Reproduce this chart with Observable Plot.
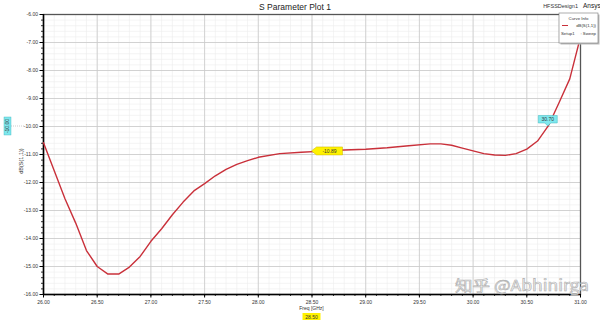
<!DOCTYPE html>
<html>
<head>
<meta charset="utf-8">
<script src="https://cdn.jsdelivr.net/npm/d3@7"></script>
<script src="https://cdn.jsdelivr.net/npm/@observablehq/plot@0.6"></script>
<style>
  html, body { margin: 0; padding: 0; background: #fff; }
  #chart svg { display: block; font-family: "Liberation Sans", Arial, sans-serif; }
</style>
</head>
<body>
<div id="chart"></div>
<script>
// ---- data ----
const freqs = [26.00, 26.10, 26.20, 26.30, 26.40, 26.50, 26.60, 26.70, 26.80, 26.90,
               27.00, 27.10, 27.20, 27.30, 27.40, 27.50, 27.60, 27.70, 27.80, 27.90,
               28.00, 28.20, 28.40, 28.60, 28.80, 29.00, 29.20, 29.40, 29.60, 29.70,
               29.80, 29.90, 30.00, 30.10, 30.20, 30.30, 30.40, 30.50, 30.60, 30.70,
               30.80, 30.90, 31.00];
const s11 = [-10.58, -11.58, -12.58, -13.45, -14.43, -15.00, -15.27, -15.27, -15.02, -14.64,
             -14.10, -13.65, -13.15, -12.70, -12.30, -12.04, -11.76, -11.53, -11.35, -11.22,
             -11.10, -10.97, -10.92, -10.88, -10.84, -10.81, -10.76, -10.69, -10.62, -10.62,
             -10.67, -10.77, -10.87, -10.97, -11.02, -11.03, -10.97, -10.81, -10.52, -9.98,
             -9.15, -8.30, -6.80];
const xTicks = [26.0, 26.5, 27.0, 27.5, 28.0, 28.5, 29.0, 29.5, 30.0, 30.5, 31.0];
const yTicks = [-16, -15, -14, -13, -12, -11, -10, -9, -8, -7, -6];
const xMinor = d3.range(26, 31.0001, 0.1);
const yMinor = d3.range(-16, -5.9999, 0.2);
const marker1 = {f: 28.50, v: -10.89, label: "-10.89", xLabel: "28.50"};
const marker2 = {f: 30.70, v: -10.00, label: "30.70", yLabel: "-10.00"};
const titleText = "S Parameter Plot 1";
const xLabel = "Freq [GHz]";
const yLabel = "dB(S(1,1))";
const legendTitle = "Curve Info";
const legendSeries = "dB(S(1,1))";
const legendSetup = ["Setup1", ": Sweep"];
const designName = "HFSSDesign1";
const brand = "Ansys";
const watermark = "知乎 @Abhinirga";

const data = freqs.map((f, i) => ({f, v: s11[i]}));
const fmt = d => d.toFixed(2);
const FONT = "Liberation Sans, Arial, sans-serif";

function annotations(index, scales, values, dim) {
  const g = d3.create("svg:g").attr("font-family", FONT).attr("text-anchor", "start");
  const {x, y} = scales;
  const L = dim.marginLeft, R = dim.width - dim.marginRight;
  const T = dim.marginTop, B = dim.height - dim.marginBottom;

  // titles
  g.append("text").attr("x", 295).attr("y", 10).attr("text-anchor", "middle")
    .attr("font-size", 8.5).attr("fill", "#222").text(titleText);
  g.append("text").attr("x", 578).attr("y", 8).attr("text-anchor", "end")
    .attr("font-size", 5.5).attr("fill", "#333").text(designName);
  g.append("text").attr("x", 583).attr("y", 7.5).attr("text-anchor", "start")
    .attr("font-size", 6.5).attr("fill", "#222").text(brand);
  g.append("text").attr("x", (L + R) / 2).attr("y", B + 15.5).attr("text-anchor", "middle")
    .attr("font-size", 5).attr("fill", "#333").text(xLabel);
  g.append("text").attr("transform", `translate(23,${(T + B) / 2 + 7}) rotate(-90)`)
    .attr("text-anchor", "middle").attr("font-size", 5.5).attr("fill", "#333").text(yLabel);

  // marker 1 (yellow, pointer to the left)
  const m1x = x(marker1.f), m1y = y(marker1.v);
  const w1 = 26, h1 = 8;
  g.append("path")
    .attr("d", `M${m1x},${m1y} L${m1x + 5},${m1y - h1 / 2} H${m1x + 5 + w1} V${m1y + h1 / 2} H${m1x + 5} Z`)
    .attr("fill", "#fff200").attr("stroke", "#c8b400").attr("stroke-width", 0.5);
  g.append("text").attr("x", m1x + 5 + w1 / 2).attr("y", m1y + 2).attr("text-anchor", "middle")
    .attr("font-size", 5).attr("fill", "#333").text(marker1.label);
  // x value of marker 1 below the axis
  g.append("rect").attr("x", m1x - 9).attr("y", B + 19).attr("width", 18).attr("height", 7)
    .attr("fill", "#fff200");
  g.append("text").attr("x", m1x).attr("y", B + 24.5).attr("text-anchor", "middle")
    .attr("font-size", 5).attr("fill", "#333").text(marker1.xLabel);

  // marker 2 (cyan, pointer down)
  const m2x = x(marker2.f), m2y = y(marker2.v);
  const w2 = 19, h2 = 7.5;
  g.append("path")
    .attr("d", `M${m2x},${m2y} L${m2x - 3},${m2y - 3} H${m2x - w2 / 2} V${m2y - 3 - h2} H${m2x + w2 / 2} V${m2y - 3} H${m2x + 3} Z`)
    .attr("fill", "#7fe8ee").attr("stroke", "#3cb6bd").attr("stroke-width", 0.5);
  g.append("text").attr("x", m2x).attr("y", m2y - 4.7).attr("text-anchor", "middle")
    .attr("font-size", 5).attr("fill", "#333").text(marker2.label);
  // y value of marker 2 at the left
  const yy = y(marker2.v);
  g.append("line").attr("x1", 11).attr("x2", 24).attr("y1", yy).attr("y2", yy)
    .attr("stroke", "#999").attr("stroke-width", 0.5).attr("stroke-dasharray", "1,1");
  g.append("rect").attr("x", 4).attr("y", yy - 9).attr("width", 7).attr("height", 18)
    .attr("fill", "#7fe8ee").attr("stroke", "#3cb6bd").attr("stroke-width", 0.4);
  g.append("text").attr("transform", `translate(9.3,${yy}) rotate(-90)`).attr("text-anchor", "middle")
    .attr("font-size", 5).attr("fill", "#333").text(marker2.yLabel);

  // legend box
  const lx = 559, ly = 13, lw = 39, lh = 30;
  g.append("rect").attr("x", lx + 1.5).attr("y", ly + 1.5).attr("width", lw).attr("height", lh)
    .attr("fill", "#bbb");
  g.append("rect").attr("x", lx).attr("y", ly).attr("width", lw).attr("height", lh)
    .attr("fill", "#fff").attr("stroke", "#777").attr("stroke-width", 0.6);
  g.append("text").attr("x", lx + lw / 2).attr("y", ly + 7).attr("text-anchor", "middle")
    .attr("font-size", 4.3).attr("fill", "#333").text(legendTitle);
  g.append("line").attr("x1", lx + 3).attr("x2", lx + 9).attr("y1", ly + 12.5).attr("y2", ly + 12.5)
    .attr("stroke", "#c9303a").attr("stroke-width", 1);
  g.append("text").attr("x", lx + lw - 2).attr("y", ly + 14).attr("text-anchor", "end")
    .attr("font-size", 4.3).attr("fill", "#333").text(legendSeries);
  g.append("text").attr("x", lx + 2).attr("y", ly + 21.5).attr("text-anchor", "start")
    .attr("font-size", 4.3).attr("fill", "#333").text(legendSetup[0]);
  g.append("text").attr("x", lx + lw - 2).attr("y", ly + 21.5).attr("text-anchor", "end")
    .attr("font-size", 4.3).attr("fill", "#333").text(legendSetup[1]);

  // watermark (kept just above the tick labels)
  g.append("text").attr("x", 455).attr("y", 291).attr("text-anchor", "start")
    .attr("font-family", "Noto Sans CJK SC, sans-serif")
    .attr("font-size", 15).attr("textLength", 134).attr("lengthAdjust", "spacingAndGlyphs")
    .attr("fill", "#f4f4f4").attr("fill-opacity", 0.85).attr("stroke", "#b0b0b0").attr("stroke-width", 0.6)
    .text(watermark);
  return g.node();
}

const chart = Plot.plot({
  width: 600,
  height: 322,
  marginLeft: 43,
  marginRight: 20,
  marginTop: 14,
  marginBottom: 28,
  style: {fontFamily: FONT, background: "#fff"},
  x: {domain: [26, 31], label: null},
  y: {domain: [-16, -6], label: null},
  marks: [
    Plot.ruleX(xMinor, {stroke: "#ececec", strokeWidth: 0.6}),
    Plot.ruleY(yMinor, {stroke: "#ececec", strokeWidth: 0.6}),
    Plot.ruleX(xTicks, {stroke: "#c9c9c9", strokeWidth: 0.8}),
    Plot.ruleY(yTicks, {stroke: "#c9c9c9", strokeWidth: 0.8}),
    Plot.frame({stroke: "#555", strokeWidth: 1.3}),
    Plot.axisX({ticks: xMinor, tickSize: 2, tickFormat: () => "", label: null, stroke: "#333"}),
    Plot.axisY({ticks: yMinor, tickSize: 2, tickFormat: () => "", label: null, stroke: "#333"}),
    Plot.axisX({ticks: xTicks, tickSize: 3.5, tickPadding: 2, tickFormat: fmt, fontSize: 5, label: null, fill: "#333", stroke: "#000"}),
    Plot.axisY({ticks: yTicks, tickSize: 3.5, tickPadding: 2, tickFormat: fmt, fontSize: 5, label: null, fill: "#333", stroke: "#000"}),
    Plot.ruleX([26], {stroke: "#000", strokeWidth: 1.5}),
    Plot.ruleY([-16], {stroke: "#000", strokeWidth: 1.5}),
    Plot.line(data, {x: "f", y: "v", stroke: "#c9303a", strokeWidth: 1.4}),
    annotations
  ]
});
document.getElementById("chart").appendChild(chart);
</script>
</body>
</html>
